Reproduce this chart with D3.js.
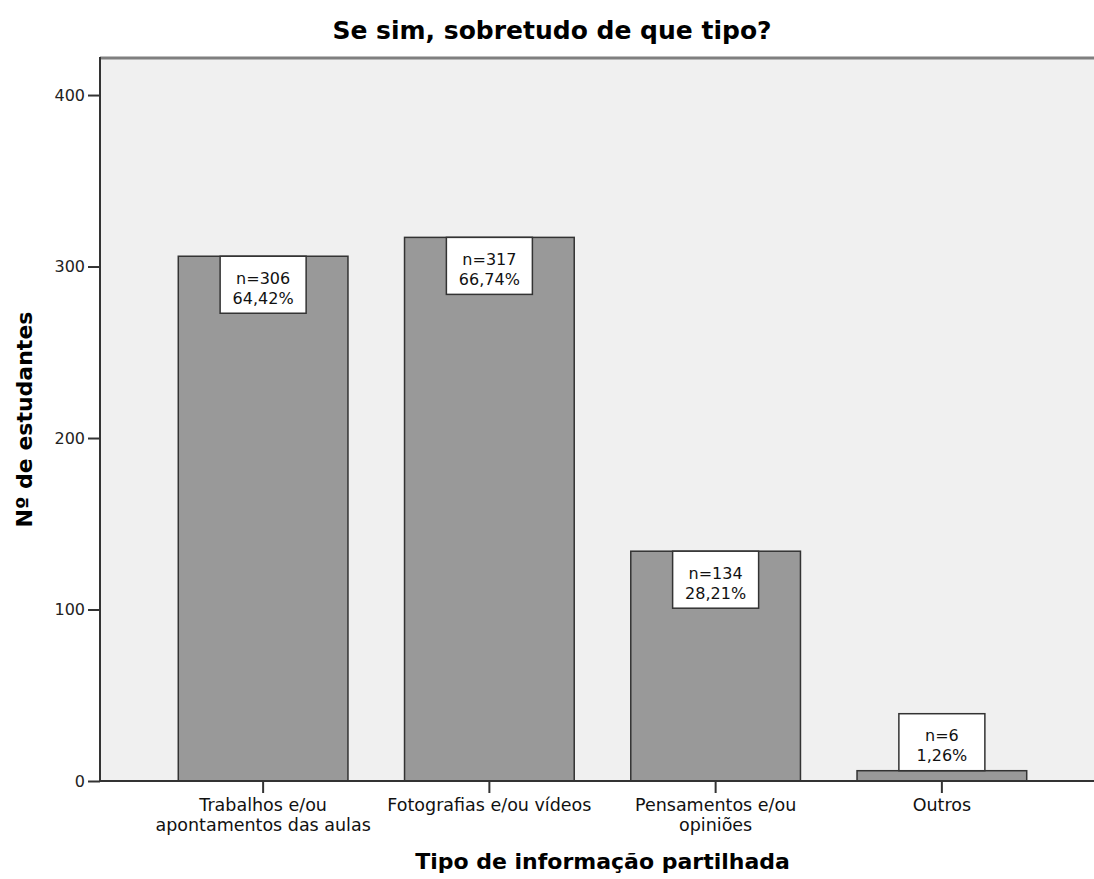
<!DOCTYPE html>
<html><head><meta charset="utf-8">
<script src="https://cdn.jsdelivr.net/npm/d3@7"></script>
<style>body{margin:0;background:#fff}svg{display:block}text{font-family:"DejaVu Sans",sans-serif}</style>
</head><body>
<svg id="c" width="1094" height="879"></svg>
<script>
const categories = [["Trabalhos e/ou","apontamentos das aulas"],["Fotografias e/ou vídeos"],["Pensamentos e/ou","opiniões"],["Outros"]];
const counts = [306, 317, 134, 6];
const percents = ["64,42%", "66,74%", "28,21%", "1,26%"];
const yTicks = [0, 100, 200, 300, 400];
const title = "Se sim, sobretudo de que tipo?";
const xTitle = "Tipo de informação partilhada";
const yTitle = "Nº de estudantes";

const svg = d3.select("#c");
const L = 100, R = 1105, T = 58, B = 781;
const y = d3.scaleLinear().domain([0, 421.6]).range([B, T]);
const x = d3.scaleBand().domain(d3.range(counts.length)).range([L, R]).paddingInner(0.25).paddingOuter(0.346);

svg.append("rect").attr("x", L).attr("y", T).attr("width", 1094 - L).attr("height", B - T).attr("fill", "#f0f0f0");
svg.append("line").attr("x1", L).attr("x2", 1094).attr("y1", T).attr("y2", T).attr("stroke", "#7f7f7f").attr("stroke-width", 3);

svg.selectAll("rect.bar").data(counts).join("rect").attr("class", "bar")
  .attr("x", (d, i) => x(i)).attr("width", x.bandwidth())
  .attr("y", d => y(d)).attr("height", d => B - y(d))
  .attr("fill", "#999999").attr("stroke", "#333").attr("stroke-width", 1.5);

// axes
const ya = svg.append("g").attr("transform", `translate(${L},0)`)
  .call(d3.axisLeft(y).tickValues(yTicks).tickSize(12).tickPadding(3).tickFormat(d3.format("d")));
ya.select(".domain").remove();
ya.selectAll(".tick line").attr("stroke", "#333").attr("stroke-width", 2);
ya.selectAll("text").attr("font-size", 16).attr("fill", "#222");
svg.append("line").attr("x1", L).attr("x2", L).attr("y1", T - 1).attr("y2", B + 1).attr("stroke", "#333").attr("stroke-width", 2);

const xa = svg.append("g").attr("transform", `translate(0,${B})`)
  .call(d3.axisBottom(x).tickSize(12).tickFormat(""));
xa.select(".domain").remove();
xa.selectAll(".tick line").attr("stroke", "#333").attr("stroke-width", 2);
svg.append("line").attr("x1", L).attr("x2", 1094).attr("y1", B).attr("y2", B).attr("stroke", "#333").attr("stroke-width", 2);

categories.forEach((lines, i) => {
  const t = svg.append("text").attr("text-anchor", "middle").attr("font-size", 17.5).attr("fill", "#111")
    .attr("x", x(i) + x.bandwidth() / 2);
  lines.forEach((s, k) => t.append("tspan").attr("x", x(i) + x.bandwidth() / 2).attr("y", 811 + k * 20).text(s));
});

// labels
const bw = 86, bh = 57;
counts.forEach((d, i) => {
  const cx = x(i) + x.bandwidth() / 2;
  const top = (B - y(d)) >= bh ? y(d) : y(d) - bh;
  svg.append("rect").attr("x", cx - bw / 2).attr("y", top).attr("width", bw).attr("height", bh)
    .attr("fill", "#fff").attr("stroke", "#333").attr("stroke-width", 1.5);
  svg.append("text").attr("x", cx).attr("y", top + 27.5).attr("text-anchor", "middle").attr("font-size", 16).attr("fill", "#111").text("n=" + d);
  svg.append("text").attr("x", cx).attr("y", top + 47.5).attr("text-anchor", "middle").attr("font-size", 16).attr("fill", "#111").text(percents[i]);
});

svg.append("text").attr("x", 552).attr("y", 39).attr("text-anchor", "middle").attr("font-size", 25).attr("font-weight", "bold").attr("fill", "#000").text(title);
svg.append("text").attr("x", (L + R) / 2).attr("y", 869).attr("text-anchor", "middle").attr("font-size", 22).attr("font-weight", "bold").attr("fill", "#000").text(xTitle);
svg.append("text").attr("transform", `translate(32,${(T + B) / 2}) rotate(-90)`).attr("text-anchor", "middle").attr("font-size", 22).attr("font-weight", "bold").attr("fill", "#000").text(yTitle);
</script>
</body></html>
